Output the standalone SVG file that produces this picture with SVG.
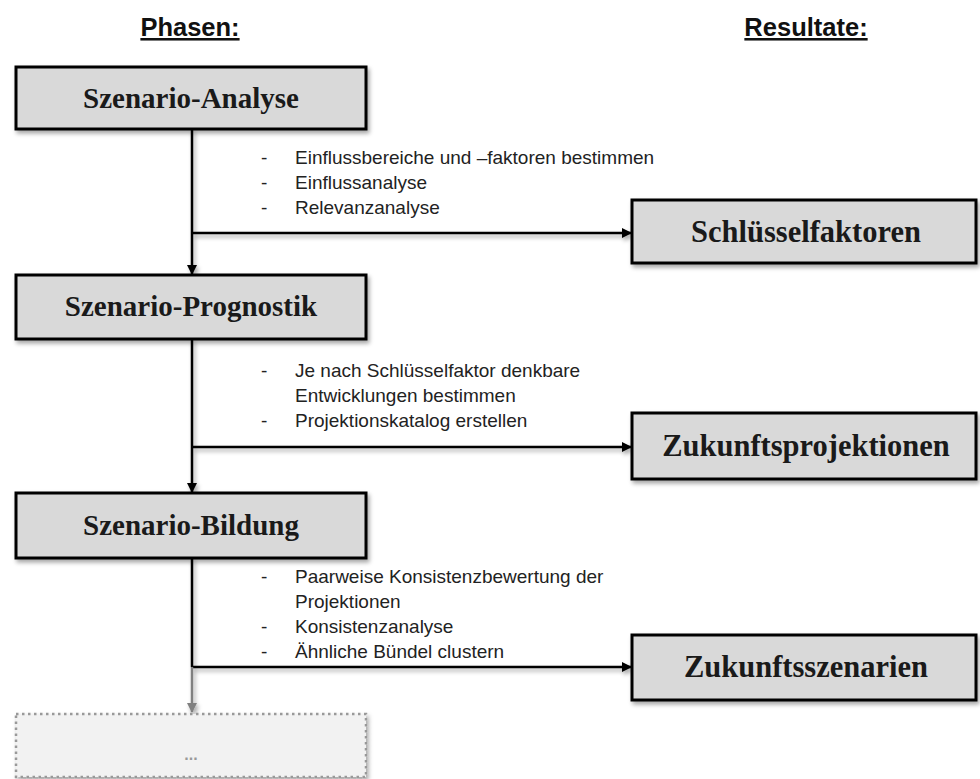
<svg xmlns="http://www.w3.org/2000/svg" width="980" height="779" viewBox="0 0 980 779">
<style>
.ph{fill:#d9d9d9;stroke:#000;stroke-width:3}
.t{font-family:"Liberation Serif",serif;font-weight:bold;font-size:29px;fill:#1a1a1a;text-anchor:middle}
.rt{font-family:"Liberation Serif",serif;font-weight:bold;font-size:30.5px;fill:#1a1a1a;text-anchor:middle}
.h{font-family:"Liberation Sans",sans-serif;font-weight:bold;font-size:25.5px;fill:#111;text-anchor:middle;text-decoration:underline}
.b{font-family:"Liberation Sans",sans-serif;font-size:19px;fill:#222}
.ln{stroke:#000;stroke-width:2.5;fill:none}
</style>
<defs>
<filter id="sh" x="-10%" y="-20%" width="130%" height="150%">
<feDropShadow dx="2" dy="3" stdDeviation="2" flood-color="#000" flood-opacity="0.35"/>
</filter>
<marker id="ah" viewBox="0 0 10 10" refX="9" refY="5" markerWidth="4" markerHeight="4" orient="auto" markerUnits="strokeWidth">
<path d="M0,0 L10,5 L0,10 z" fill="#000"/>
</marker>
<marker id="ag" viewBox="0 0 10 10" refX="9" refY="5" markerWidth="4" markerHeight="4" orient="auto" markerUnits="strokeWidth">
<path d="M0,0 L10,5 L0,10 z" fill="#808080"/>
</marker>
</defs>
<rect width="980" height="779" fill="#fff"/>
<text class="h" x="190" y="36">Phasen:</text>
<text class="h" x="806" y="36">Resultate:</text>
<g id="connectors" filter="url(#sh)">
<line class="ln" x1="192" y1="129" x2="192" y2="274" marker-end="url(#ah)"/>
<line class="ln" x1="192" y1="233" x2="631" y2="233" marker-end="url(#ah)"/>
<line class="ln" x1="192" y1="339" x2="192" y2="492" marker-end="url(#ah)"/>
<line class="ln" x1="192" y1="447" x2="631" y2="447" marker-end="url(#ah)"/>
<line class="ln" x1="192" y1="558" x2="192" y2="667"/>
<line class="ln" x1="192" y1="667" x2="631" y2="667" marker-end="url(#ah)"/>
<line stroke="#808080" stroke-width="2.5" x1="192" y1="667" x2="192" y2="712" marker-end="url(#ag)"/>
</g>
<g id="phase1"><rect class="ph" x="16" y="67" width="350" height="62" filter="url(#sh)"/><text class="t" x="191" y="108">Szenario-Analyse</text></g>
<g id="phase2"><rect class="ph" x="16" y="275" width="350" height="64" filter="url(#sh)"/><text class="t" x="191" y="316">Szenario-Prognostik</text></g>
<g id="phase3"><rect class="ph" x="16" y="493" width="350" height="65" filter="url(#sh)"/><text class="t" x="191" y="535">Szenario-Bildung</text></g>
<g id="phase4"><rect x="16" y="714" width="350" height="63" fill="#f2f2f2" stroke="#999" stroke-width="2.5" stroke-dasharray="2.5 3.5" filter="url(#sh)"/><text x="191" y="760" font-family="Liberation Sans,sans-serif" font-size="16" font-weight="bold" fill="#999" text-anchor="middle">...</text></g>
<g id="result1"><rect class="ph" x="632" y="200" width="344" height="63" filter="url(#sh)"/><text class="rt" x="806" y="242">Schlüsselfaktoren</text></g>
<g id="result2"><rect class="ph" x="632" y="413" width="344" height="66" filter="url(#sh)"/><text class="rt" x="806" y="456">Zukunftsprojektionen</text></g>
<g id="result3"><rect class="ph" x="632" y="635" width="344" height="65" filter="url(#sh)"/><text class="rt" x="806" y="677">Zukunftsszenarien</text></g>
<g id="notes1" class="b">
<text x="261" y="164">-</text><text x="295" y="164">Einflussbereiche und –faktoren bestimmen</text>
<text x="261" y="189">-</text><text x="295" y="189">Einflussanalyse</text>
<text x="261" y="214">-</text><text x="295" y="214">Relevanzanalyse</text>
</g>
<g id="notes2" class="b">
<text x="261" y="377">-</text><text x="295" y="377">Je nach Schlüsselfaktor denkbare</text>
<text x="295" y="402">Entwicklungen bestimmen</text>
<text x="261" y="427">-</text><text x="295" y="427">Projektionskatalog erstellen</text>
</g>
<g id="notes3" class="b">
<text x="261" y="583">-</text><text x="295" y="583">Paarweise Konsistenzbewertung der</text>
<text x="295" y="608">Projektionen</text>
<text x="261" y="633">-</text><text x="295" y="633">Konsistenzanalyse</text>
<text x="261" y="658">-</text><text x="295" y="658">Ähnliche Bündel clustern</text>
</g>
</svg>
